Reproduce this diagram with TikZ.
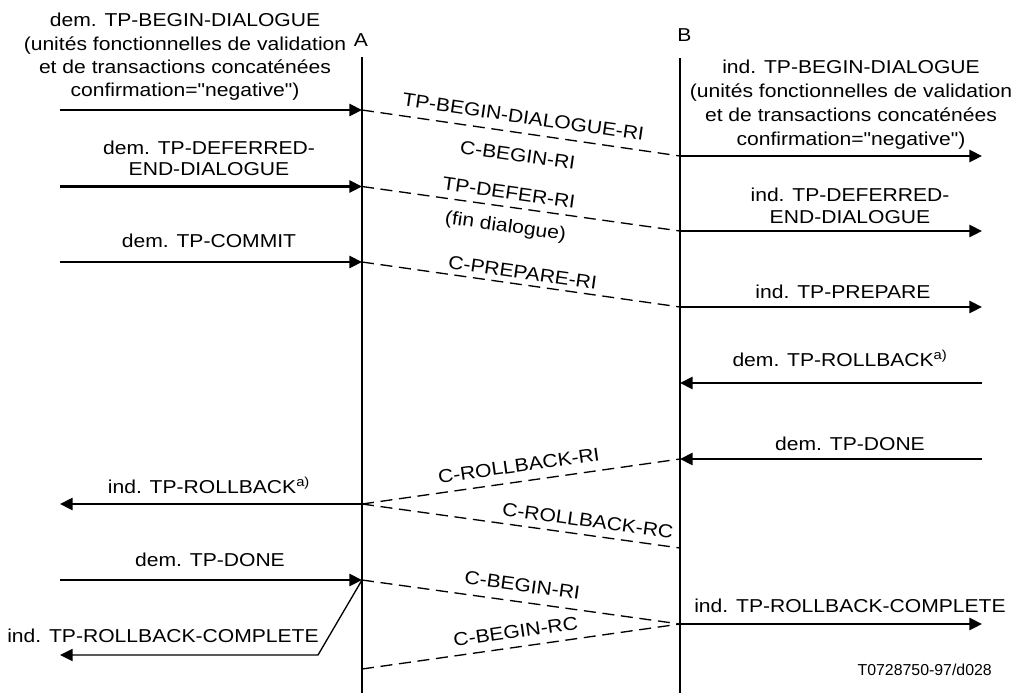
\documentclass[tikz,border=0pt]{standalone}
\usepackage{fontspec}
\newfontfamily\lblfont{Liberation Sans}[FakeStretch=1.13]
\newfontfamily\codefont{Liberation Sans}
\usetikzlibrary{arrows.meta}

\newcommand\lblsize{\lblfont\fontsize{14pt}{17.5pt}\selectfont}

\tikzset{
  lifeline/.style={line width=1.8pt},
  prim/.style={line width=1.8pt, -{Triangle[length=9.4pt,width=9pt]}},
  thinprim/.style={line width=1pt, -{Triangle[length=9.4pt,width=9pt]}},
  pdu/.style={line width=1pt, dash pattern=on 9pt off 5pt},
  lbl/.style={inner sep=0pt, anchor=base, align=center, font=\lblsize},
  pdulbl/.style={inner sep=0pt, sloped, font=\lblsize},
}

\begin{document}
\begin{tikzpicture}[x=0.75pt,y=-0.75pt]
\useasboundingbox (0,0) rectangle (1019,693);

% lifelines of the two entities
\coordinate (Atop) at (362,57);
\coordinate (Abot) at (362,693);
\coordinate (Btop) at (680,58);
\coordinate (Bbot) at (680,693);
\draw[lifeline] (Atop) -- (Abot);
\draw[lifeline] (Btop) -- (Bbot);
\node[lbl] (Alab) at (361,46.5) {A};
\node[lbl, anchor=base west] (Blab) at (677,41.7) {B};

% points on lifeline A
\coordinate (a1) at (362,110);
\coordinate (a2) at (362,186.5);
\coordinate (a3) at (362,262);
\coordinate (a6) at (362,504);
\coordinate (a7) at (362,580);
\coordinate (a9) at (362,669);
% points on lifeline B
\coordinate (b1) at (680,156);
\coordinate (b2) at (680,231);
\coordinate (b3) at (680,307);
\coordinate (b4) at (680,383);
\coordinate (b5) at (680,459);
\coordinate (b6) at (680,548);
\coordinate (b8) at (680,624);
% free ends of the user-side primitives
\coordinate (l1) at (60,110);
\coordinate (l2) at (60,186.5);
\coordinate (l3) at (60,262);
\coordinate (l6) at (60,504);
\coordinate (l7) at (60,580);
\coordinate (l9) at (60,655);
\coordinate (bend) at (318,655);
\coordinate (r1) at (982,156);
\coordinate (r2) at (982,231);
\coordinate (r3) at (982,307);
\coordinate (r4) at (982,383);
\coordinate (r5) at (982,459);
\coordinate (r8) at (982,624);

% primitive labels, side A (multi-line nodes sit on their last baseline)
\node[lbl, font=\lblfont\fontsize{14pt}{17.5pt}\selectfont] (tL1) at (185,96.7)
  {dem. TP-BEGIN-DIALOGUE\\(unités fonctionnelles de validation\\et de transactions concaténées\\confirmation="negative")};
\node[lbl, font=\lblfont\fontsize{14pt}{15.5pt}\selectfont] (tL2) at (209,175) {dem. TP-DEFERRED-\\END-DIALOGUE};
\node[lbl] (tL3) at (209,247) {dem. TP-COMMIT};
\node[lbl] (tL6) at (209,493) {ind. TP-ROLLBACK\textsuperscript{a)}};
\node[lbl] (tL7) at (210,566) {dem. TP-DONE};
\node[lbl] (tL9) at (163,642.7) {ind. TP-ROLLBACK-COMPLETE};

% primitive labels, side B
\node[lbl, font=\lblfont\fontsize{14pt}{18pt}\selectfont] (tR1) at (851,145)
  {ind. TP-BEGIN-DIALOGUE\\(unités fonctionnelles de validation\\et de transactions concaténées\\confirmation="negative")};
\node[lbl, font=\lblfont\fontsize{14pt}{16.2pt}\selectfont] (tR2) at (850,223.3) {ind. TP-DEFERRED-\\END-DIALOGUE};
\node[lbl] (tR3) at (843,298) {ind. TP-PREPARE};
\node[lbl] (tR4) at (840,366.7) {dem. TP-ROLLBACK\textsuperscript{a)}};
\node[lbl] (tR5) at (850,450) {dem. TP-DONE};
\node[lbl] (tR8) at (850,612.7) {ind. TP-ROLLBACK-COMPLETE};

% service primitives
\draw[prim] (l1) -- (a1);
\draw[prim] (b1) -- (r1);
\draw[prim] (l2) -- (a2);
\draw[prim] (b2) -- (r2);
\draw[prim] (l3) -- (a3);
\draw[prim] (b3) -- (r3);
\draw[prim] (r4) -- (b4);
\draw[prim] (r5) -- (b5);
\draw[prim] (a6) -- (l6);
\draw[prim] (l7) -- (a7);
\draw[prim] (b8) -- (r8);
\draw[thinprim] (a7) -- (bend) -- (l9);

% protocol data units
\draw[pdu] (a1) -- (b1)
  node[pdulbl, pos=0.5, above=6.75pt] (p1a) {TP-BEGIN-DIALOGUE-RI}
  node[pdulbl, pos=0.5, below=11.3pt] (p1b) {C-BEGIN-RI};
\draw[pdu] (a2) -- (b2)
  node[pdulbl, pos=0.456, above=5.5pt] (p2a) {TP-DEFER-RI}
  node[pdulbl, pos=0.46, below=8.3pt] (p2b) {(fin dialogue)};
\draw[pdu] (a3) -- (b3)
  node[pdulbl, pos=0.5, above=3.6pt] (p3a) {C-PREPARE-RI};
\draw[pdu] (a6) -- (b5)
  node[pdulbl, pos=0.5, above=6.6pt] (p5a) {C-ROLLBACK-RI};
\draw[pdu] (a6) -- (b6)
  node[pdulbl, pos=0.704, above=5.5pt] (p6a) {C-ROLLBACK-RC};
\draw[pdu] (a7) -- (b8)
  node[pdulbl, pos=0.497, above=7pt] (p7a) {C-BEGIN-RI};
\draw[pdu] (a9) -- (b8)
  node[pdulbl, pos=0.49, above=6.2pt] (p8a) {C-BEGIN-RC};

% drawing reference
\node[inner sep=0pt, anchor=base east, font=\codefont\fontsize{11.9pt}{14pt}\selectfont] (ref) at (992,675) {T0728750-97/d028};
\end{tikzpicture}
\end{document}
